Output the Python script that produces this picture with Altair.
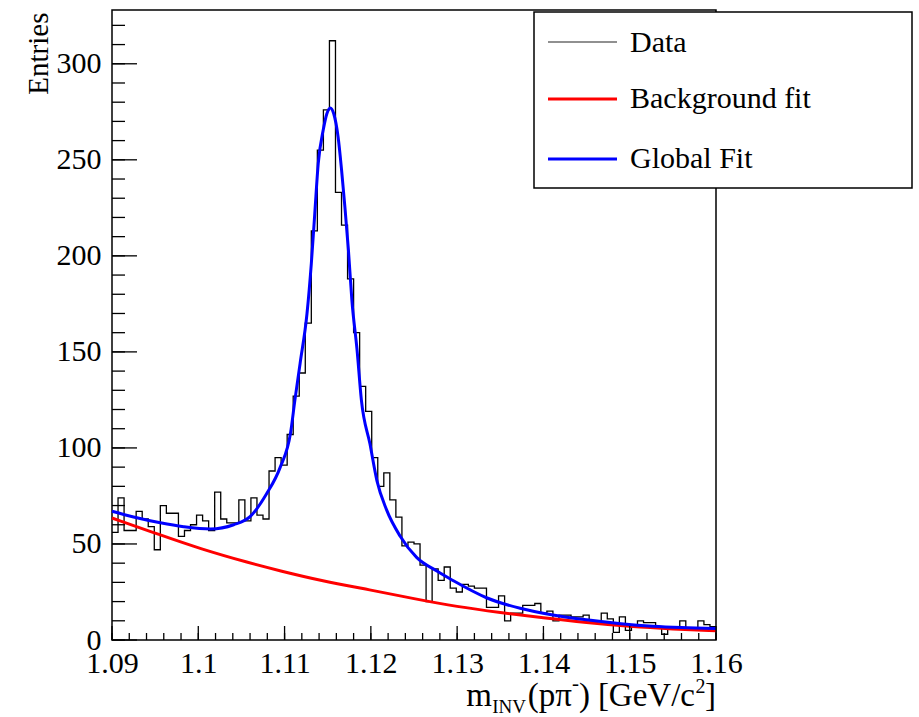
import altair as alt
import pandas as pd

FONT = "Liberation Serif"

# ---------------- data ----------------
x_start = 1.09
bin_width = 0.0007
counts = [56, 74, 57, 57, 67, 63, 59, 47, 70, 66,
          66, 54, 57, 60, 65, 62, 57, 77, 63, 61,
          61, 73, 62, 74, 65, 63, 88, 95, 91, 107,
          127, 139, 165, 213, 255, 276, 312, 233, 216, 188,
          160, 132, 119, 95, 80, 87, 73, 64, 49, 51,
          50, 39, 20, 37, 31, 38, 27, 25, 29, 28,
          27, 27, 17, 17, 23, 10, 14, 14, 18, 18,
          19, 14, 15, 10, 13, 13, 12, 12, 13, 10,
          10, 14, 11, 4, 12, 5, 7, 10, 9, 9,
          7, 3, 7, 6, 10, 6, 6, 10, 8, 7]

bkg_x = [1.090, 1.0956, 1.1002, 1.106, 1.1095, 1.1141, 1.120, 1.125, 1.130,
         1.135, 1.140, 1.145, 1.150, 1.155, 1.160]
bkg_y = [63.5, 54.7, 47.5, 40.0, 36.0, 31.0, 26.0, 21.5, 17.3,
         14.3, 11.5, 9.0, 7.0, 5.7, 4.8]

fit_x = [1.0900, 1.0925, 1.0956, 1.0983, 1.1014, 1.1041, 1.1060, 1.1079, 1.1095,
         1.1107, 1.1112, 1.1118, 1.1126, 1.1131, 1.1135, 1.1139, 1.1145, 1.1149,
         1.1153, 1.1157, 1.1162, 1.1166, 1.1170, 1.1174, 1.1178, 1.1184, 1.1189,
         1.1199, 1.1207, 1.1218, 1.1234, 1.1253, 1.1276, 1.1295, 1.1334, 1.1373,
         1.1411, 1.1450, 1.1490, 1.1527, 1.1560, 1.1600]
fit_y = [67.0, 64.0, 61.0, 59.0, 57.8, 60.0, 64.2, 76.0, 90.0,
         108.0, 125.0, 144.0, 170.0, 196.0, 222.0, 248.0, 266.0, 274.0,
         277.0, 274.0, 262.0, 245.0, 225.0, 203.0, 177.0, 151.0, 125.0,
         102.0, 83.0, 68.0, 54.0, 43.0, 36.0, 31.0, 22.0, 16.5,
         13.0, 10.5, 8.5, 7.2, 6.5, 6.0]

x_major = [1.09, 1.10, 1.11, 1.12, 1.13, 1.14, 1.15, 1.16]
x_minor = [round(1.09 + 0.002 * k, 4) for k in range(36)]
y_major = [0, 50, 100, 150, 200, 250, 300]
y_minor = list(range(0, 330, 10))

legend_labels = ["Data", "Background fit", "Global Fit"]
legend_colors = ["#222222", "#ff0000", "#0000ff"]

# ---------------- tables ----------------
edges = [round(x_start + i * bin_width, 5) for i in range(len(counts) + 1)]
hist_df = pd.DataFrame({"x": edges, "y": counts + [counts[-1]]})
bkg_df = pd.DataFrame({"x": bkg_x, "y": bkg_y})
fit_df = pd.DataFrame({"x": fit_x, "y": fit_y})
one = pd.DataFrame({"k": [0]})

xs = alt.Scale(domain=[1.09, 1.16], nice=False, zero=False)
ys = alt.Scale(domain=[0, 328], nice=False, zero=True)

ax_x = alt.Axis(values=x_major, format="~g", ticks=False, domain=False, grid=False,
                labelFont=FONT, labelFontSize=30, labelColor="black", labelPadding=8,
                labelFlush=False, title=None)
ax_y = alt.Axis(values=y_major, ticks=False, domain=False, grid=False,
                labelFont=FONT, labelFontSize=30, labelColor="black", labelPadding=11,
                title="Entries", titleFont=FONT, titleFontSize=29, titleFontWeight="normal",
                titleColor="black", titleAngle=270, titleAlign="right", titleBaseline="middle",
                titleX=-74, titleY=2)

X = lambda f: alt.X(f, scale=xs, axis=ax_x)
Y = lambda f: alt.Y(f, scale=ys, axis=ax_y)

hist = alt.Chart(hist_df).mark_line(
    interpolate="step-after", color="black", strokeWidth=1.3
).encode(x=X("x:Q"), y=Y("y:Q"))

bkg = alt.Chart(bkg_df).mark_line(
    interpolate="basis", color="#ff0000", strokeWidth=3
).encode(x=X("x:Q"), y=Y("y:Q"))

fit = alt.Chart(fit_df).mark_line(
    interpolate="monotone", color="#0000ff", strokeWidth=3
).encode(x=X("x:Q"), y=Y("y:Q"))

ymaj = alt.Chart(pd.DataFrame({"y": y_major})).mark_rule(color="black", strokeWidth=1.3).encode(
    y=Y("y:Q"), x=alt.value(0), x2=alt.value(25))
ymin = alt.Chart(pd.DataFrame({"y": y_minor})).mark_rule(color="black", strokeWidth=1.3).encode(
    y=Y("y:Q"), x=alt.value(0), x2=alt.value(13))
xmaj = alt.Chart(pd.DataFrame({"x": x_major})).mark_rule(color="black", strokeWidth=1.3).encode(
    x=X("x:Q"), y=alt.value(630), y2=alt.value(616))
xmin = alt.Chart(pd.DataFrame({"x": x_minor})).mark_rule(color="black", strokeWidth=1.3).encode(
    x=X("x:Q"), y=alt.value(630), y2=alt.value(623))

# legend box
leg_box = alt.Chart(one).mark_rect(fill="white", stroke="black", strokeWidth=1.5).encode(
    x=alt.value(422), x2=alt.value(800), y=alt.value(2), y2=alt.value(178))

leg_layers = []
leg_line_y = [32, 89, 149]
leg_text_y = [42, 98, 158]
leg_widths = [1.2, 3, 3]
for lab, col, ly, ty, lw in zip(legend_labels, legend_colors, leg_line_y, leg_text_y, leg_widths):
    leg_layers.append(alt.Chart(one).mark_rule(color=col, strokeWidth=lw).encode(
        x=alt.value(436), x2=alt.value(505), y=alt.value(ly)))
    leg_layers.append(alt.Chart(one).mark_text(
        font=FONT, fontSize=30, align="left", baseline="alphabetic", color="black").encode(
        x=alt.value(518), y=alt.value(ty), text=alt.value(lab)))

# x-axis title pieces
def txt(s, x, y, size, align="left"):
    return alt.Chart(one).mark_text(
        font=FONT, fontSize=size, align=align, baseline="alphabetic", color="black").encode(
        x=alt.value(x), y=alt.value(y), text=alt.value(s))

xt = [
    txt("m", 380, 696, 33, "right"),
    txt("INV", 414, 703, 19, "right"),
    txt("(pπ", 460, 696, 33, "right"),
    txt("-", 467, 680, 21, "right"),
    txt(")", 478, 696, 33, "right"),
    txt("[GeV/c", 583, 696, 33, "right"),
    txt("2", 583.5, 683, 20, "left"),
    txt("]", 604, 696, 33, "right"),
]

chart = alt.layer(
    hist, bkg, fit, ymaj, ymin, xmaj, xmin, leg_box, *leg_layers, *xt
).properties(
    width=604, height=630,
    autosize=alt.AutoSizeParams(type="none"),
    padding={"left": 112, "top": 10, "right": 203, "bottom": 77},
    background="white",
).configure_view(stroke="black", strokeWidth=1.5)

chart.save("out.html", embed_options={"renderer": "svg", "actions": False})
